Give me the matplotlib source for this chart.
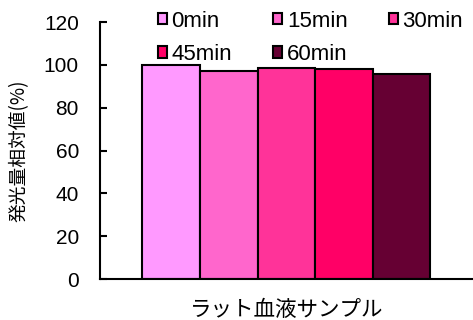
import numpy as np
import matplotlib
matplotlib.use('Agg')
import matplotlib.pyplot as plt

plt.rcParams['font.family'] = ['Liberation Sans', 'Noto Sans CJK JP']

# Data
times = ['0min', '15min', '30min', '45min', '60min']
values = [100, 97.0, 98.5, 98.2, 95.8]
colors = ['#FF99FF', '#FF66CC', '#FF3399', '#FF0066', '#660033']
group = 'ラット血液サンプル'

fig = plt.figure(figsize=(4.73, 3.2), dpi=100)
ax = fig.add_axes([0.211, 0.128, 0.789, 0.803])

width = 0.2
bars = []
for i, (t, v, c) in enumerate(zip(times, values, colors)):
    b = ax.bar((i - 2) * width, v, width, color=c, edgecolor='black', linewidth=1.5, label=t)
    bars.append(b)

ax.set_xlim(-0.6475, 0.6475)
ax.set_ylim(0, 120)
ax.set_yticks(np.arange(0, 121, 20))
ax.set_xticks([])
ax.spines['top'].set_visible(False)
ax.spines['right'].set_visible(False)
ax.spines['left'].set_linewidth(1.5)
ax.spines['bottom'].set_linewidth(1.5)
ax.tick_params(axis='y', direction='in', length=5, width=1.5, labelsize=15, pad=15)
ax.set_xlabel(group, fontsize=15.5, labelpad=14, family=['Noto Sans CJK JP'])
ax.set_ylabel('発光量相対値(%)', fontsize=13.5, labelpad=10, family=['Noto Sans CJK JP'])

# legend filled row by row like the original
order = [0, 3, 1, 4, 2]
ax.legend([bars[k] for k in order], [times[k] for k in order],
          loc='upper left', bbox_to_anchor=(0.155, 1.045), ncol=3, frameon=False,
          fontsize=16, handlelength=0.42, handleheight=0.42, handletextpad=0.2,
          columnspacing=1.85, labelspacing=0.55, borderaxespad=0, borderpad=0)

fig.savefig('out.png', dpi=100)
